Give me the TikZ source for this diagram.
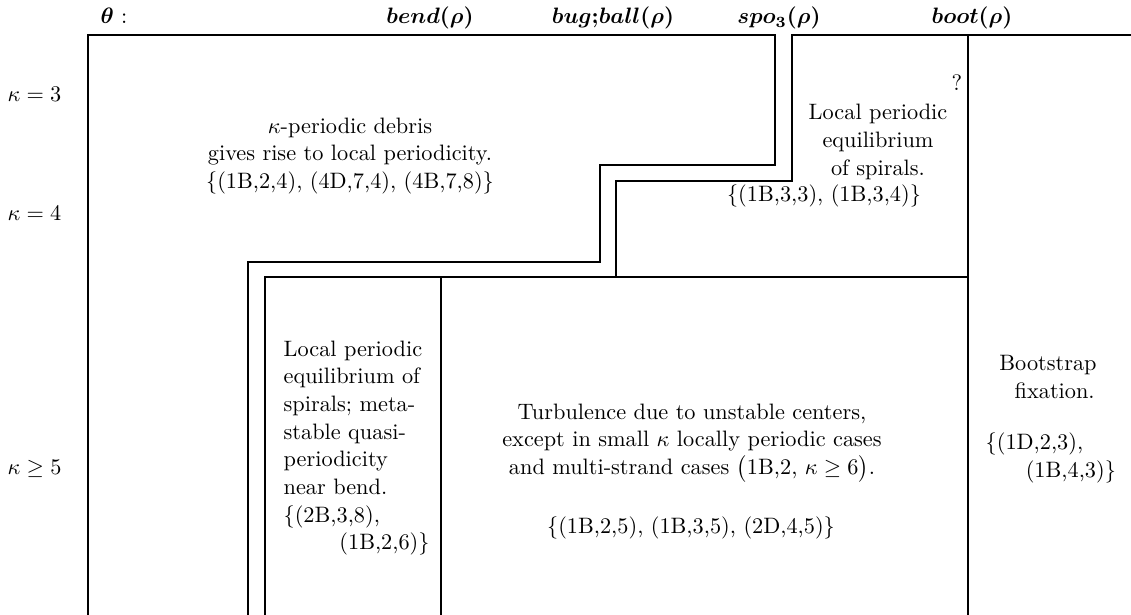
\documentclass[tikz,border=0pt]{standalone}
\usepackage{amsmath}
\begin{document}
\begin{tikzpicture}[x=0.4484pt,y=-0.4484pt,line width=0.6pt]
\useasboundingbox(0,0)rectangle(1131,615);
\tikzset{toplbl/.style={anchor=base,inner sep=0pt,font=\boldmath},
  txt/.style={align=center,inner sep=0pt,font=\fontsize{10}{12.4}\selectfont}}
% frame and staircases
\draw(88,615)--(88,35)--(775,35)--(775,165)--(600,165)--(600,262)--(248,262)--(248,615);
\draw(1131,35)--(792,35)--(792,181)--(616,181)--(616,277)--(265,277)--(265,615);
\draw(616,277)--(968,277);
\foreach \xv/\ya in {441/277,968/35}{\draw(\xv,\ya)--(\xv,615);}
% column heads
\node[toplbl](theta) at (114,24){$\theta$ :};
\node[toplbl](bend) at (430,24){$bend(\rho)$};
\node[toplbl](bugball) at (613,24){$bug{;}ball(\rho)$};
\node[toplbl](spo) at (779,24){$spo_3(\rho)$};
\node[toplbl](boot) at (972,24){$boot(\rho)$};
% row heads
\foreach \yk/\kl in {94/{\kappa=3},213/{\kappa=4},469/{\kappa\geq5}}{\node[anchor=west,inner sep=0pt](k\yk) at (7,\yk){$\kl$};}
% regions
\node[txt](debris) at (350,156){$\kappa$-periodic debris\\gives rise to local periodicity.\\$\{$(1B,2,4), (4D,7,4), (4B,7,8)$\}$};
\node[inner sep=0pt](quest) at (957,83){?};
\node[txt](spirals) at (878,142){Local periodic\\equilibrium\\of spirals.};
\node[inner sep=0pt](spiralset) at (824,196){$\{$(1B,3,3), (1B,3,4)$\}$};
\node[txt,align=left,anchor=north west](quasi) at (283,340){Local periodic\\equilibrium of\\spirals; meta-\\stable quasi-\\periodicity\\near bend.\\$\{$(2B,3,8),\\\hspace*{2.5em}(1B,2,6)$\}$};
\node[txt](turb) at (692,443){Turbulence due to unstable centers,\\except in small $\kappa$ locally periodic cases\\and multi-strand cases $\bigl($1B,2, $\kappa\geq6\bigr)$.};
\node[inner sep=0pt](turbset) at (691,528){$\{$(1B,2,5), (1B,3,5), (2D,4,5)$\}$};
\node[txt](fix) at (1048,377){Bootstrap\\\hspace*{0.6em}fixation.};
\node[txt,align=left,anchor=north west](fixset) at (985,432){$\{$(1D,2,3),\\\hspace*{1.8em}(1B,4,3)$\}$};
\end{tikzpicture}
\end{document}
